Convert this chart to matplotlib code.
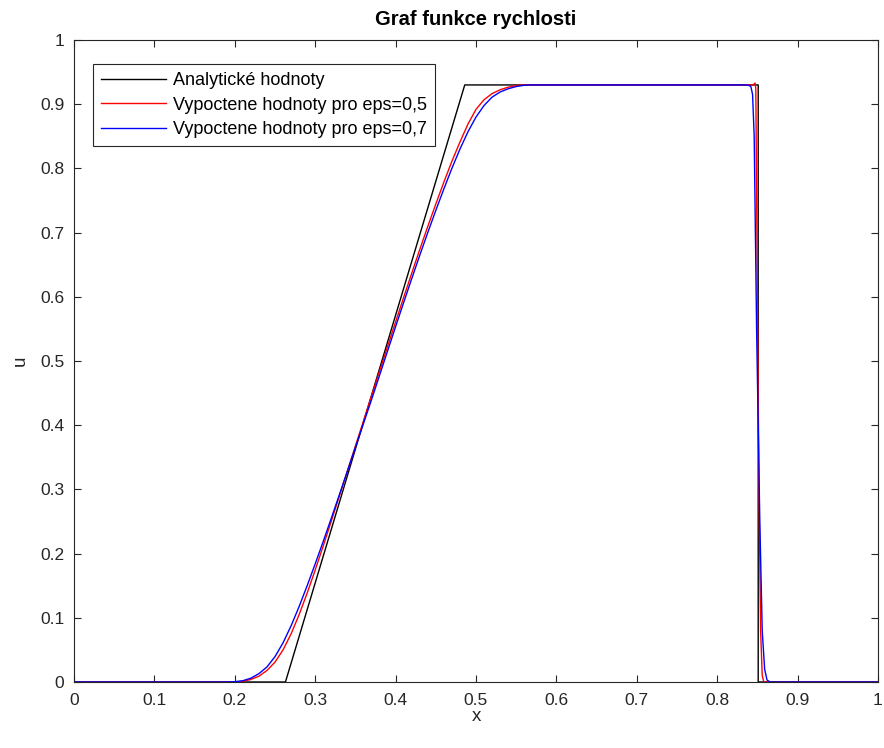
import matplotlib
matplotlib.use("Agg")
import matplotlib.pyplot as plt

plt.rcParams['font.family'] = ['Liberation Sans', 'DejaVu Sans']

# Analytic solution
x_an = [0.0, 0.263, 0.486, 0.851, 0.851, 1.0]
u_an = [0.0, 0.0, 0.930, 0.930, 0.0, 0.0]

# Computed, eps = 0.5
x_r = [0.0, 0.20, 0.21, 0.22, 0.23, 0.24, 0.25, 0.26, 0.27, 0.28, 0.29, 0.30,
       0.31, 0.32, 0.33, 0.34, 0.35, 0.36, 0.37, 0.38, 0.39, 0.40, 0.41, 0.42,
       0.43, 0.44, 0.45, 0.46, 0.47, 0.48, 0.49, 0.50, 0.51, 0.52, 0.53, 0.54,
       0.55, 0.56, 0.70, 0.80, 0.840, 0.845, 0.847, 0.848, 0.850, 0.852, 0.854,
       0.856, 0.858, 0.900, 1.0]
u_r = [0.0, 0.0, 0.001, 0.004, 0.009, 0.018, 0.031, 0.050, 0.075, 0.105, 0.1385,
       0.1745, 0.212, 0.2505, 0.2895, 0.3285, 0.3675, 0.4065, 0.4455, 0.484,
       0.5225, 0.561, 0.599, 0.6365, 0.6735, 0.7095, 0.7445, 0.7785, 0.811, 0.841,
       0.869, 0.892, 0.907, 0.9165, 0.9225, 0.9265, 0.929, 0.930, 0.930, 0.930,
       0.930, 0.930, 0.933, 0.925, 0.600, 0.300, 0.080, 0.010, 0.0, 0.0, 0.0]

# Computed, eps = 0.7
x_b = [0.0, 0.19, 0.20, 0.21, 0.22, 0.23, 0.24, 0.25, 0.26, 0.27, 0.28, 0.29,
       0.30, 0.31, 0.32, 0.33, 0.34, 0.35, 0.36, 0.37, 0.38, 0.39, 0.40, 0.41,
       0.42, 0.43, 0.44, 0.45, 0.46, 0.47, 0.48, 0.49, 0.50, 0.51, 0.52, 0.53,
       0.54, 0.55, 0.56, 0.57, 0.70, 0.80, 0.836, 0.840, 0.842, 0.844, 0.846,
       0.849, 0.853, 0.856, 0.859, 0.862, 0.866, 0.900, 1.0]
u_b = [0.0, 0.0, 0.0005, 0.002, 0.006, 0.013, 0.0235, 0.0395, 0.061, 0.0875,
       0.1175, 0.150, 0.184, 0.219, 0.255, 0.2915, 0.3285, 0.3655, 0.4025, 0.4395,
       0.4775, 0.5155, 0.5535, 0.591, 0.628, 0.6645, 0.700, 0.7345, 0.768, 0.800,
       0.830, 0.857, 0.880, 0.898, 0.911, 0.919, 0.924, 0.9275, 0.9295, 0.930,
       0.930, 0.930, 0.930, 0.929, 0.927, 0.915, 0.850, 0.550, 0.250, 0.080, 0.020,
       0.003, 0.0, 0.0, 0.0]

xticks = [0, 0.1, 0.2, 0.3, 0.4, 0.5, 0.6, 0.7, 0.8, 0.9, 1]
yticks = [0, 0.1, 0.2, 0.3, 0.4, 0.5, 0.6, 0.7, 0.8, 0.9, 1]
labels = ['Analytické hodnoty', 'Vypoctene hodnoty pro eps=0,5',
          'Vypoctene hodnoty pro eps=0,7']

fig = plt.figure(figsize=(8.84, 7.48), dpi=100)
ax = fig.add_axes([74/884, 66/748, 804/884, 642/748])
axc = '#262626'

ax.plot(x_an, u_an, color='black', lw=1.0, label=labels[0])
ax.plot(x_r, u_r, color='red', lw=1.0, label=labels[1])
ax.plot(x_b, u_b, color='blue', lw=1.0, label=labels[2])

ax.set_xlim(0, 1)
ax.set_ylim(0, 1)
ax.set_xticks(xticks)
ax.set_yticks(yticks)
ax.set_xticklabels([('%g' % t) for t in xticks])
ax.set_yticklabels([('%g' % t) for t in yticks])
ax.tick_params(direction='in', top=True, right=True, length=5, width=0.8,
               colors=axc, labelsize=12.5)
ax.tick_params(axis='x', pad=8)
ax.tick_params(axis='y', pad=7)
for s in ax.spines.values():
    s.set_color(axc)
    s.set_linewidth(0.8)

ax.set_xlabel('x', fontsize=13.5, color=axc, labelpad=0)
ax.set_ylabel('u', fontsize=13.5, color=axc, labelpad=8)
ax.set_title('Graf funkce rychlosti', fontsize=14.5, fontweight='bold', color='black', pad=11)

leg = ax.legend(loc='upper left', bbox_to_anchor=(0.0236, 0.9626), fontsize=13,
                fancybox=False, framealpha=1, edgecolor=axc, handlelength=3.6,
                borderaxespad=0, labelspacing=0.42, handletextpad=0.4, borderpad=0.45)
leg.get_frame().set_linewidth(0.8)

fig.savefig('out.png', dpi=100)
